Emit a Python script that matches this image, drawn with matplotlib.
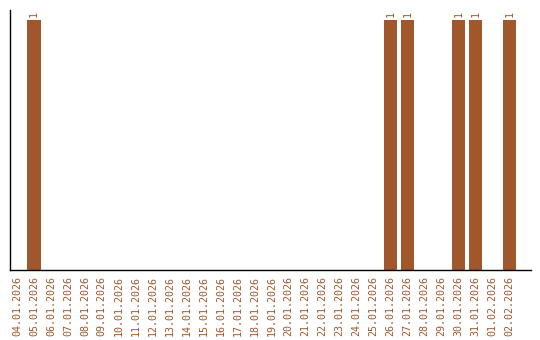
import numpy as np
import matplotlib
matplotlib.use("Agg")
from matplotlib import pyplot as plt

dates = ["04.01.2026", "05.01.2026", "06.01.2026", "07.01.2026", "08.01.2026",
         "09.01.2026", "10.01.2026", "11.01.2026", "12.01.2026", "13.01.2026",
         "14.01.2026", "15.01.2026", "16.01.2026", "17.01.2026", "18.01.2026",
         "19.01.2026", "20.01.2026", "21.01.2026", "22.01.2026", "23.01.2026",
         "24.01.2026", "25.01.2026", "26.01.2026", "27.01.2026", "28.01.2026",
         "29.01.2026", "30.01.2026", "31.01.2026", "01.02.2026", "02.02.2026"]
counts = [0, 1, 0, 0, 0, 0, 0, 0, 0, 0,
          0, 0, 0, 0, 0, 0, 0, 0, 0, 0,
          0, 0, 1, 1, 0, 0, 1, 1, 0, 1]

color = "#A0572B"
W, H = 540, 340

fig = plt.figure(figsize=(W / 100, H / 100), dpi=100)
ax = fig.add_axes([10 / W, 70 / H, 521 / W, 260 / H])

x = np.arange(len(dates))
ax.bar(x, counts, width=0.8, color=color)

# value labels above the non-empty days
for xi, c in zip(x, counts):
    if c > 0:
        ax.annotate(str(c), (xi, c), xytext=(0, 2), textcoords="offset points",
                    rotation=90, ha="center", va="bottom", color=color,
                    fontsize=7.2, family="DejaVu Sans Mono")

ax.set_xlim(-0.41, 30.27)
ax.set_ylim(0, 1.04)
ax.set_xticks(x)
ax.set_xticklabels(dates, rotation=90, color=color, fontsize=7.2,
                   family="DejaVu Sans Mono")
ax.tick_params(axis="x", length=0, pad=4)
ax.set_yticks([])
for s in ["top", "right"]:
    ax.spines[s].set_visible(False)
ax.spines["left"].set_linewidth(1)
ax.spines["bottom"].set_linewidth(1)

fig.savefig("out.png", dpi=100)
